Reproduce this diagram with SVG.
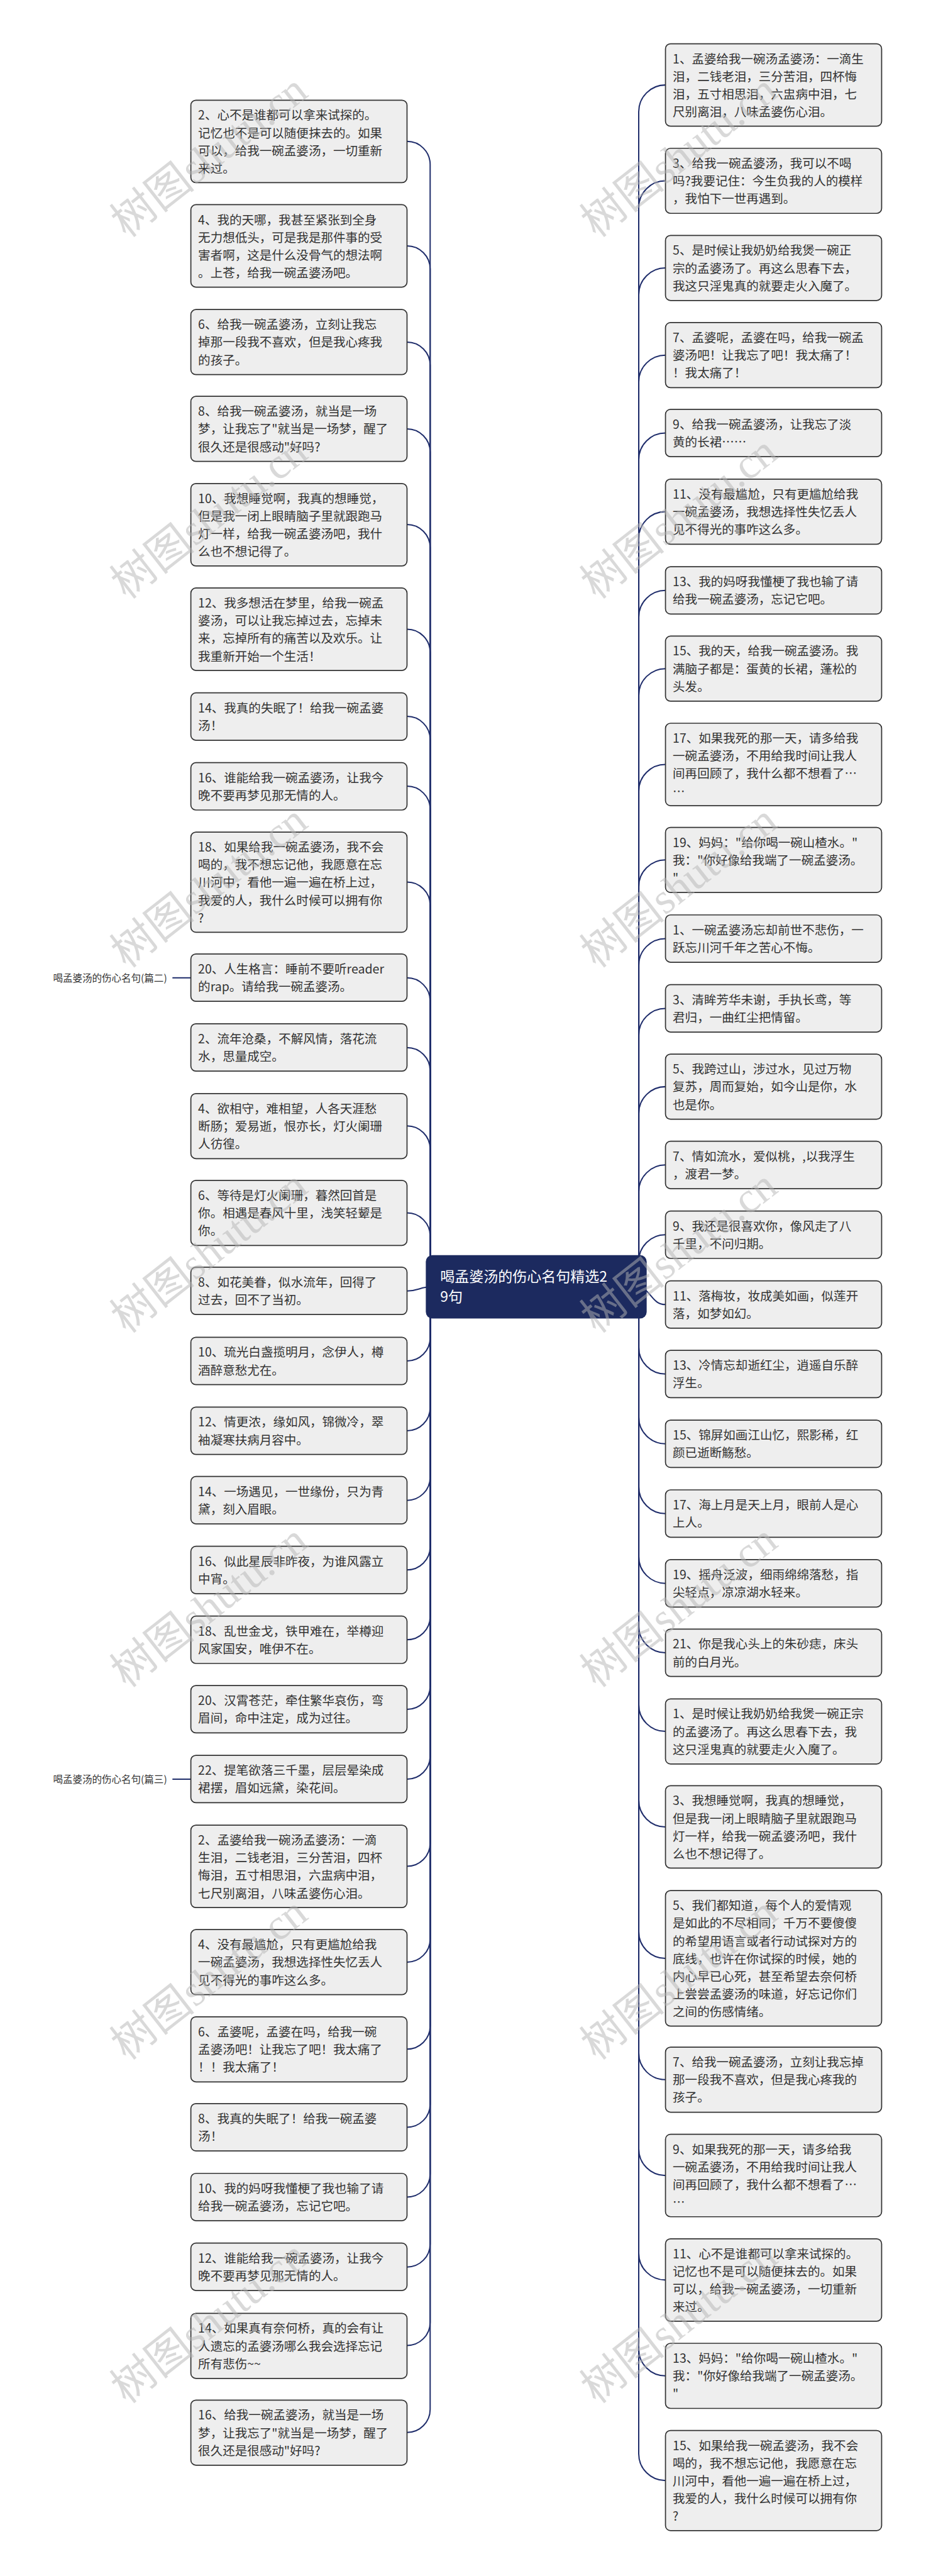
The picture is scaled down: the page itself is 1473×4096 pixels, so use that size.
<svg xmlns="http://www.w3.org/2000/svg" width="1473" height="4096" viewBox="0 0 1473 4096">
<style>
.box{fill:#eeeeee;stroke:#333333;stroke-width:3}
.t{font-family:"Noto Sans CJK SC","Noto Sans",sans-serif;font-size:34px;fill:#333333}
.lab{font-family:"Noto Sans CJK SC","Noto Sans",sans-serif;font-size:27px;fill:#333333}
.ct{font-family:"Noto Sans CJK SC","Noto Sans",sans-serif;font-size:40px;fill:#ffffff}
.wm{font-family:"Liberation Serif","Noto Sans CJK SC",serif;font-size:120px;fill:#b4b4b4;fill-opacity:0.5}
</style>
<rect x="0" y="0" width="1473" height="4096" fill="#ffffff"/>
<g transform="scale(0.575)">
<g id="connectors" fill="none" stroke="#1f2d6b" stroke-width="3.5">
<path d="M1126,391C1161.3,391 1190,419.7 1190,455L1190,3558"/>
<path d="M1126,680C1161.3,680 1190,708.7 1190,744L1190,3558"/>
<path d="M1126,946C1161.3,946 1190,974.7 1190,1010L1190,3558"/>
<path d="M1126,1186C1161.3,1186 1190,1214.7 1190,1250L1190,3558"/>
<path d="M1126,1450.5C1161.3,1450.5 1190,1479.2 1190,1514.5L1190,3558"/>
<path d="M1126,1740C1161.3,1740 1190,1768.7 1190,1804L1190,3558"/>
<path d="M1126,1981C1161.3,1981 1190,2009.7 1190,2045L1190,3558"/>
<path d="M1126,2174C1161.3,2174 1190,2202.7 1190,2238L1190,3558"/>
<path d="M1126,2439C1161.3,2439 1190,2467.7 1190,2503L1190,3558"/>
<path d="M1126,2704C1161.3,2704 1190,2732.7 1190,2768L1190,3558"/>
<path d="M1126,2897C1161.3,2897 1190,2925.7 1190,2961L1190,3558"/>
<path d="M1126,3113.5C1161.3,3113.5 1190,3142.2 1190,3177.5L1190,3558"/>
<path d="M1126,3354C1161.3,3354 1190,3382.7 1190,3418L1190,3558"/>
<path d="M1126,3570C1160,3570 1160,3558 1200,3558"/>
<path d="M1126,3763.5C1161.3,3763.5 1190,3734.8 1190,3699.5L1190,3558"/>
<path d="M1126,3956.5C1161.3,3956.5 1190,3927.8 1190,3892.5L1190,3558"/>
<path d="M1126,4149C1161.3,4149 1190,4120.3 1190,4085L1190,3558"/>
<path d="M1126,4341.5C1161.3,4341.5 1190,4312.8 1190,4277.5L1190,3558"/>
<path d="M1126,4534.5C1161.3,4534.5 1190,4505.8 1190,4470.5L1190,3558"/>
<path d="M1126,4727C1161.3,4727 1190,4698.3 1190,4663L1190,3558"/>
<path d="M1126,4920C1161.3,4920 1190,4891.3 1190,4856L1190,3558"/>
<path d="M1126,5161C1161.3,5161 1190,5132.3 1190,5097L1190,3558"/>
<path d="M1126,5426C1161.3,5426 1190,5397.3 1190,5362L1190,3558"/>
<path d="M1126,5666.5C1161.3,5666.5 1190,5637.8 1190,5602.5L1190,3558"/>
<path d="M1126,5882.5C1161.3,5882.5 1190,5853.8 1190,5818.5L1190,3558"/>
<path d="M1126,6075.5C1161.3,6075.5 1190,6046.8 1190,6011.5L1190,3558"/>
<path d="M1126,6269C1161.3,6269 1190,6240.3 1190,6205L1190,3558"/>
<path d="M1126,6486C1161.3,6486 1190,6457.3 1190,6422L1190,3558"/>
<path d="M1126,6726.5C1161.3,6726.5 1190,6697.8 1190,6662.5L1190,3558"/>
<path d="M1841,235C1800.2,235 1767,268.2 1767,309L1767,3558"/>
<path d="M1841,500C1800.2,500 1767,533.2 1767,574L1767,3558"/>
<path d="M1841,741C1800.2,741 1767,774.2 1767,815L1767,3558"/>
<path d="M1841,982C1800.2,982 1767,1015.2 1767,1056L1767,3558"/>
<path d="M1841,1197.5C1800.2,1197.5 1767,1230.7 1767,1271.5L1767,3558"/>
<path d="M1841,1415C1800.2,1415 1767,1448.2 1767,1489L1767,3558"/>
<path d="M1841,1632.5C1800.2,1632.5 1767,1665.7 1767,1706.5L1767,3558"/>
<path d="M1841,1849C1800.2,1849 1767,1882.2 1767,1923L1767,3558"/>
<path d="M1841,2114C1800.2,2114 1767,2147.2 1767,2188L1767,3558"/>
<path d="M1841,2378C1800.2,2378 1767,2411.2 1767,2452L1767,3558"/>
<path d="M1841,2595.5C1800.2,2595.5 1767,2628.7 1767,2669.5L1767,3558"/>
<path d="M1841,2788.5C1800.2,2788.5 1767,2821.7 1767,2862.5L1767,3558"/>
<path d="M1841,3005C1800.2,3005 1767,3038.2 1767,3079L1767,3558"/>
<path d="M1841,3221.5C1800.2,3221.5 1767,3254.7 1767,3295.5L1767,3558"/>
<path d="M1841,3414.5C1800.2,3414.5 1767,3447.7 1767,3488.5L1767,3558"/>
<path d="M1841,3607.5C1800,3607.5 1800,3558 1760,3558"/>
<path d="M1841,3799.5C1800.2,3799.5 1767,3766.3 1767,3725.5L1767,3558"/>
<path d="M1841,3992.5C1800.2,3992.5 1767,3959.3 1767,3918.5L1767,3558"/>
<path d="M1841,4185.5C1800.2,4185.5 1767,4152.3 1767,4111.5L1767,3558"/>
<path d="M1841,4378.5C1800.2,4378.5 1767,4345.3 1767,4304.5L1767,3558"/>
<path d="M1841,4570.5C1800.2,4570.5 1767,4537.3 1767,4496.5L1767,3558"/>
<path d="M1841,4788C1800.2,4788 1767,4754.8 1767,4714L1767,3558"/>
<path d="M1841,5052C1800.2,5052 1767,5018.8 1767,4978L1767,3558"/>
<path d="M1841,5415.5C1800.2,5415.5 1767,5382.3 1767,5341.5L1767,3558"/>
<path d="M1841,5751C1800.2,5751 1767,5717.8 1767,5677L1767,3558"/>
<path d="M1841,6016C1800.2,6016 1767,5982.8 1767,5942L1767,3558"/>
<path d="M1841,6305C1800.2,6305 1767,6271.8 1767,6231L1767,3558"/>
<path d="M1841,6570C1800.2,6570 1767,6536.8 1767,6496L1767,3558"/>
<path d="M1841,6859.5C1800.2,6859.5 1767,6826.3 1767,6785.5L1767,3558"/>
<path d="M477,2704L528,2704"/>
<path d="M477,4920L528,4920"/>
</g>

<g id="center">
<rect x="1178" y="3471" width="611" height="175" rx="18" fill="#1c2a5f"/>
<text class="ct"><tspan x="1218" y="3544">喝孟婆汤的伤心名句精选2</tspan><tspan x="1218" y="3600">9句</tspan></text>
</g>

<g id="label-2"><text class="lab" x="462" y="2714" text-anchor="end">喝孟婆汤的伤心名句(篇二)</text></g>
<g id="label-3"><text class="lab" x="462" y="4930" text-anchor="end">喝孟婆汤的伤心名句(篇三)</text></g>

<g id="L1"><rect class="box" x="528" y="277" width="598" height="228" rx="14"/><text class="t"><tspan x="548" y="331">2、心不是谁都可以拿来试探的。</tspan><tspan x="548" y="380">记忆也不是可以随便抹去的。如果</tspan><tspan x="548" y="429">可以，给我一碗孟婆汤，一切重新</tspan><tspan x="548" y="478">来过。</tspan></text></g>
<g id="L2"><rect class="box" x="528" y="566" width="598" height="228" rx="14"/><text class="t"><tspan x="548" y="620">4、我的天哪，我甚至紧张到全身</tspan><tspan x="548" y="669">无力想低头，可是我是那件事的受</tspan><tspan x="548" y="718">害者啊，这是什么没骨气的想法啊</tspan><tspan x="548" y="767">。上苍，给我一碗孟婆汤吧。</tspan></text></g>
<g id="L3"><rect class="box" x="528" y="856" width="598" height="180" rx="14"/><text class="t"><tspan x="548" y="910">6、给我一碗孟婆汤，立刻让我忘</tspan><tspan x="548" y="959">掉那一段我不喜欢，但是我心疼我</tspan><tspan x="548" y="1008">的孩子。</tspan></text></g>
<g id="L4"><rect class="box" x="528" y="1096" width="598" height="180" rx="14"/><text class="t"><tspan x="548" y="1150">8、给我一碗孟婆汤，就当是一场</tspan><tspan x="548" y="1199">梦，让我忘了"就当是一场梦，醒了</tspan><tspan x="548" y="1248">很久还是很感动"好吗?</tspan></text></g>
<g id="L5"><rect class="box" x="528" y="1337" width="598" height="228" rx="14"/><text class="t"><tspan x="548" y="1391">10、我想睡觉啊，我真的想睡觉，</tspan><tspan x="548" y="1440">但是我一闭上眼睛脑子里就跟跑马</tspan><tspan x="548" y="1489">灯一样，给我一碗孟婆汤吧，我什</tspan><tspan x="548" y="1538">么也不想记得了。</tspan></text></g>
<g id="L6"><rect class="box" x="528" y="1626" width="598" height="228" rx="14"/><text class="t"><tspan x="548" y="1680">12、我多想活在梦里，给我一碗孟</tspan><tspan x="548" y="1729">婆汤，可以让我忘掉过去，忘掉未</tspan><tspan x="548" y="1778">来，忘掉所有的痛苦以及欢乐。让</tspan><tspan x="548" y="1827">我重新开始一个生活！</tspan></text></g>
<g id="L7"><rect class="box" x="528" y="1916" width="598" height="131" rx="14"/><text class="t"><tspan x="548" y="1970">14、我真的失眠了！给我一碗孟婆</tspan><tspan x="548" y="2019">汤！</tspan></text></g>
<g id="L8"><rect class="box" x="528" y="2109" width="598" height="131" rx="14"/><text class="t"><tspan x="548" y="2163">16、谁能给我一碗孟婆汤，让我今</tspan><tspan x="548" y="2212">晚不要再梦见那无情的人。</tspan></text></g>
<g id="L9"><rect class="box" x="528" y="2301" width="598" height="277" rx="14"/><text class="t"><tspan x="548" y="2355">18、如果给我一碗孟婆汤，我不会</tspan><tspan x="548" y="2404">喝的，我不想忘记他，我愿意在忘</tspan><tspan x="548" y="2453">川河中，看他一遍一遍在桥上过，</tspan><tspan x="548" y="2502">我爱的人，我什么时候可以拥有你</tspan><tspan x="548" y="2551">?</tspan></text></g>
<g id="L10"><rect class="box" x="528" y="2638" width="598" height="131" rx="14"/><text class="t"><tspan x="548" y="2692">20、人生格言：睡前不要听reader</tspan><tspan x="548" y="2741">的rap。请给我一碗孟婆汤。</tspan></text></g>
<g id="L11"><rect class="box" x="528" y="2831" width="598" height="131" rx="14"/><text class="t"><tspan x="548" y="2885">2、流年沧桑，不解风情，落花流</tspan><tspan x="548" y="2934">水，思量成空。</tspan></text></g>
<g id="L12"><rect class="box" x="528" y="3024" width="598" height="180" rx="14"/><text class="t"><tspan x="548" y="3078">4、欲相守，难相望，人各天涯愁</tspan><tspan x="548" y="3127">断肠；爱易逝，恨亦长，灯火阑珊</tspan><tspan x="548" y="3176">人彷徨。</tspan></text></g>
<g id="L13"><rect class="box" x="528" y="3264" width="598" height="180" rx="14"/><text class="t"><tspan x="548" y="3318">6、等待是灯火阑珊，暮然回首是</tspan><tspan x="548" y="3367">你。相遇是春风十里，浅笑轻颦是</tspan><tspan x="548" y="3416">你。</tspan></text></g>
<g id="L14"><rect class="box" x="528" y="3504" width="598" height="131" rx="14"/><text class="t"><tspan x="548" y="3558">8、如花美眷，似水流年，回得了</tspan><tspan x="548" y="3607">过去，回不了当初。</tspan></text></g>
<g id="L15"><rect class="box" x="528" y="3698" width="598" height="131" rx="14"/><text class="t"><tspan x="548" y="3752">10、琉光白盏揽明月，念伊人，樽</tspan><tspan x="548" y="3801">酒醉意愁尤在。</tspan></text></g>
<g id="L16"><rect class="box" x="528" y="3891" width="598" height="131" rx="14"/><text class="t"><tspan x="548" y="3945">12、情更浓，缘如风，锦微冷，翠</tspan><tspan x="548" y="3994">袖凝寒扶病月容中。</tspan></text></g>
<g id="L17"><rect class="box" x="528" y="4083" width="598" height="131" rx="14"/><text class="t"><tspan x="548" y="4137">14、一场遇见，一世缘份，只为青</tspan><tspan x="548" y="4186">黛，刻入眉眼。</tspan></text></g>
<g id="L18"><rect class="box" x="528" y="4276" width="598" height="131" rx="14"/><text class="t"><tspan x="548" y="4330">16、似此星辰非昨夜，为谁风露立</tspan><tspan x="548" y="4379">中宵。</tspan></text></g>
<g id="L19"><rect class="box" x="528" y="4469" width="598" height="131" rx="14"/><text class="t"><tspan x="548" y="4523">18、乱世金戈，铁甲难在，举樽迎</tspan><tspan x="548" y="4572">风家国安，唯伊不在。</tspan></text></g>
<g id="L20"><rect class="box" x="528" y="4661" width="598" height="131" rx="14"/><text class="t"><tspan x="548" y="4715">20、汉霄苍茫，牵住繁华哀伤，弯</tspan><tspan x="548" y="4764">眉间，命中注定，成为过往。</tspan></text></g>
<g id="L21"><rect class="box" x="528" y="4854" width="598" height="131" rx="14"/><text class="t"><tspan x="548" y="4908">22、提笔欲落三千墨，层层晕染成</tspan><tspan x="548" y="4957">裙摆，眉如远黛，染花间。</tspan></text></g>
<g id="L22"><rect class="box" x="528" y="5047" width="598" height="228" rx="14"/><text class="t"><tspan x="548" y="5101">2、孟婆给我一碗汤孟婆汤：一滴</tspan><tspan x="548" y="5150">生泪，二钱老泪，三分苦泪，四杯</tspan><tspan x="548" y="5199">悔泪，五寸相思泪，六盅病中泪，</tspan><tspan x="548" y="5248">七尺别离泪，八味孟婆伤心泪。</tspan></text></g>
<g id="L23"><rect class="box" x="528" y="5336" width="598" height="180" rx="14"/><text class="t"><tspan x="548" y="5390">4、没有最尴尬，只有更尴尬给我</tspan><tspan x="548" y="5439">一碗孟婆汤，我想选择性失忆丢人</tspan><tspan x="548" y="5488">见不得光的事咋这么多。</tspan></text></g>
<g id="L24"><rect class="box" x="528" y="5577" width="598" height="180" rx="14"/><text class="t"><tspan x="548" y="5631">6、孟婆呢，孟婆在吗，给我一碗</tspan><tspan x="548" y="5680">孟婆汤吧！让我忘了吧！我太痛了</tspan><tspan x="548" y="5729">！！我太痛了！</tspan></text></g>
<g id="L25"><rect class="box" x="528" y="5817" width="598" height="131" rx="14"/><text class="t"><tspan x="548" y="5871">8、我真的失眠了！给我一碗孟婆</tspan><tspan x="548" y="5920">汤！</tspan></text></g>
<g id="L26"><rect class="box" x="528" y="6010" width="598" height="131" rx="14"/><text class="t"><tspan x="548" y="6064">10、我的妈呀我懂梗了我也输了请</tspan><tspan x="548" y="6113">给我一碗孟婆汤，忘记它吧。</tspan></text></g>
<g id="L27"><rect class="box" x="528" y="6203" width="598" height="131" rx="14"/><text class="t"><tspan x="548" y="6257">12、谁能给我一碗孟婆汤，让我今</tspan><tspan x="548" y="6306">晚不要再梦见那无情的人。</tspan></text></g>
<g id="L28"><rect class="box" x="528" y="6397" width="598" height="180" rx="14"/><text class="t"><tspan x="548" y="6451">14、如果真有奈何桥，真的会有让</tspan><tspan x="548" y="6500">人遗忘的孟婆汤哪么我会选择忘记</tspan><tspan x="548" y="6549">所有悲伤~~</tspan></text></g>
<g id="L29"><rect class="box" x="528" y="6637" width="598" height="180" rx="14"/><text class="t"><tspan x="548" y="6691">16、给我一碗孟婆汤，就当是一场</tspan><tspan x="548" y="6740">梦，让我忘了"就当是一场梦，醒了</tspan><tspan x="548" y="6789">很久还是很感动"好吗?</tspan></text></g>

<g id="R1"><rect class="box" x="1841" y="121" width="598" height="228" rx="14"/><text class="t"><tspan x="1861" y="175">1、孟婆给我一碗汤孟婆汤：一滴生</tspan><tspan x="1861" y="224">泪，二钱老泪，三分苦泪，四杯悔</tspan><tspan x="1861" y="273">泪，五寸相思泪，六盅病中泪，七</tspan><tspan x="1861" y="322">尺别离泪，八味孟婆伤心泪。</tspan></text></g>
<g id="R2"><rect class="box" x="1841" y="410" width="598" height="180" rx="14"/><text class="t"><tspan x="1861" y="464">3、给我一碗孟婆汤，我可以不喝</tspan><tspan x="1861" y="513">吗?我要记住：今生负我的人的模样</tspan><tspan x="1861" y="562">，我怕下一世再遇到。</tspan></text></g>
<g id="R3"><rect class="box" x="1841" y="651" width="598" height="180" rx="14"/><text class="t"><tspan x="1861" y="705">5、是时候让我奶奶给我煲一碗正</tspan><tspan x="1861" y="754">宗的孟婆汤了。再这么思春下去，</tspan><tspan x="1861" y="803">我这只淫鬼真的就要走火入魔了。</tspan></text></g>
<g id="R4"><rect class="box" x="1841" y="892" width="598" height="180" rx="14"/><text class="t"><tspan x="1861" y="946">7、孟婆呢，孟婆在吗，给我一碗孟</tspan><tspan x="1861" y="995">婆汤吧！让我忘了吧！我太痛了！</tspan><tspan x="1861" y="1044">！我太痛了！</tspan></text></g>
<g id="R5"><rect class="box" x="1841" y="1132" width="598" height="131" rx="14"/><text class="t"><tspan x="1861" y="1186">9、给我一碗孟婆汤，让我忘了淡</tspan><tspan x="1861" y="1235">黄的长裙……</tspan></text></g>
<g id="R6"><rect class="box" x="1841" y="1325" width="598" height="180" rx="14"/><text class="t"><tspan x="1861" y="1379">11、没有最尴尬，只有更尴尬给我</tspan><tspan x="1861" y="1428">一碗孟婆汤，我想选择性失忆丢人</tspan><tspan x="1861" y="1477">见不得光的事咋这么多。</tspan></text></g>
<g id="R7"><rect class="box" x="1841" y="1567" width="598" height="131" rx="14"/><text class="t"><tspan x="1861" y="1621">13、我的妈呀我懂梗了我也输了请</tspan><tspan x="1861" y="1670">给我一碗孟婆汤，忘记它吧。</tspan></text></g>
<g id="R8"><rect class="box" x="1841" y="1759" width="598" height="180" rx="14"/><text class="t"><tspan x="1861" y="1813">15、我的天，给我一碗孟婆汤。我</tspan><tspan x="1861" y="1862">满脑子都是：蛋黄的长裙，蓬松的</tspan><tspan x="1861" y="1911">头发。</tspan></text></g>
<g id="R9"><rect class="box" x="1841" y="2000" width="598" height="228" rx="14"/><text class="t"><tspan x="1861" y="2054">17、如果我死的那一天，请多给我</tspan><tspan x="1861" y="2103">一碗孟婆汤，不用给我时间让我人</tspan><tspan x="1861" y="2152">间再回顾了，我什么都不想看了…</tspan><tspan x="1861" y="2201">…</tspan></text></g>
<g id="R10"><rect class="box" x="1841" y="2288" width="598" height="180" rx="14"/><text class="t"><tspan x="1861" y="2342">19、妈妈："给你喝一碗山楂水。"</tspan><tspan x="1861" y="2391">我："你好像给我端了一碗孟婆汤。</tspan><tspan x="1861" y="2440">"</tspan></text></g>
<g id="R11"><rect class="box" x="1841" y="2530" width="598" height="131" rx="14"/><text class="t"><tspan x="1861" y="2584">1、一碗孟婆汤忘却前世不悲伤，一</tspan><tspan x="1861" y="2633">跃忘川河千年之苦心不悔。</tspan></text></g>
<g id="R12"><rect class="box" x="1841" y="2723" width="598" height="131" rx="14"/><text class="t"><tspan x="1861" y="2777">3、清眸芳华未谢，手执长鸢，等</tspan><tspan x="1861" y="2826">君归，一曲红尘把情留。</tspan></text></g>
<g id="R13"><rect class="box" x="1841" y="2915" width="598" height="180" rx="14"/><text class="t"><tspan x="1861" y="2969">5、我跨过山，涉过水，见过万物</tspan><tspan x="1861" y="3018">复苏，周而复始，如今山是你，水</tspan><tspan x="1861" y="3067">也是你。</tspan></text></g>
<g id="R14"><rect class="box" x="1841" y="3156" width="598" height="131" rx="14"/><text class="t"><tspan x="1861" y="3210">7、情如流水，爱似桃，,以我浮生</tspan><tspan x="1861" y="3259">，渡君一梦。</tspan></text></g>
<g id="R15"><rect class="box" x="1841" y="3349" width="598" height="131" rx="14"/><text class="t"><tspan x="1861" y="3403">9、我还是很喜欢你，像风走了八</tspan><tspan x="1861" y="3452">千里，不问归期。</tspan></text></g>
<g id="R16"><rect class="box" x="1841" y="3542" width="598" height="131" rx="14"/><text class="t"><tspan x="1861" y="3596">11、落梅妆，妆成美如画，似莲开</tspan><tspan x="1861" y="3645">落，如梦如幻。</tspan></text></g>
<g id="R17"><rect class="box" x="1841" y="3734" width="598" height="131" rx="14"/><text class="t"><tspan x="1861" y="3788">13、冷情忘却逝红尘，逍遥自乐醉</tspan><tspan x="1861" y="3837">浮生。</tspan></text></g>
<g id="R18"><rect class="box" x="1841" y="3927" width="598" height="131" rx="14"/><text class="t"><tspan x="1861" y="3981">15、锦屏如画江山忆，熙影稀，红</tspan><tspan x="1861" y="4030">颜已逝断觞愁。</tspan></text></g>
<g id="R19"><rect class="box" x="1841" y="4120" width="598" height="131" rx="14"/><text class="t"><tspan x="1861" y="4174">17、海上月是天上月，眼前人是心</tspan><tspan x="1861" y="4223">上人。</tspan></text></g>
<g id="R20"><rect class="box" x="1841" y="4313" width="598" height="131" rx="14"/><text class="t"><tspan x="1861" y="4367">19、摇舟泛波，细雨绵绵落愁，指</tspan><tspan x="1861" y="4416">尖轻点，凉凉湖水轻来。</tspan></text></g>
<g id="R21"><rect class="box" x="1841" y="4505" width="598" height="131" rx="14"/><text class="t"><tspan x="1861" y="4559">21、你是我心头上的朱砂痣，床头</tspan><tspan x="1861" y="4608">前的白月光。</tspan></text></g>
<g id="R22"><rect class="box" x="1841" y="4698" width="598" height="180" rx="14"/><text class="t"><tspan x="1861" y="4752">1、是时候让我奶奶给我煲一碗正宗</tspan><tspan x="1861" y="4801">的孟婆汤了。再这么思春下去，我</tspan><tspan x="1861" y="4850">这只淫鬼真的就要走火入魔了。</tspan></text></g>
<g id="R23"><rect class="box" x="1841" y="4938" width="598" height="228" rx="14"/><text class="t"><tspan x="1861" y="4992">3、我想睡觉啊，我真的想睡觉，</tspan><tspan x="1861" y="5041">但是我一闭上眼睛脑子里就跟跑马</tspan><tspan x="1861" y="5090">灯一样，给我一碗孟婆汤吧，我什</tspan><tspan x="1861" y="5139">么也不想记得了。</tspan></text></g>
<g id="R24"><rect class="box" x="1841" y="5228" width="598" height="375" rx="14"/><text class="t"><tspan x="1861" y="5282">5、我们都知道，每个人的爱情观</tspan><tspan x="1861" y="5331">是如此的不尽相同，千万不要傻傻</tspan><tspan x="1861" y="5380">的希望用语言或者行动试探对方的</tspan><tspan x="1861" y="5429">底线，也许在你试探的时候，她的</tspan><tspan x="1861" y="5478">内心早已心死，甚至希望去奈何桥</tspan><tspan x="1861" y="5527">上尝尝孟婆汤的味道，好忘记你们</tspan><tspan x="1861" y="5576">之间的伤感情绪。</tspan></text></g>
<g id="R25"><rect class="box" x="1841" y="5661" width="598" height="180" rx="14"/><text class="t"><tspan x="1861" y="5715">7、给我一碗孟婆汤，立刻让我忘掉</tspan><tspan x="1861" y="5764">那一段我不喜欢，但是我心疼我的</tspan><tspan x="1861" y="5813">孩子。</tspan></text></g>
<g id="R26"><rect class="box" x="1841" y="5902" width="598" height="228" rx="14"/><text class="t"><tspan x="1861" y="5956">9、如果我死的那一天，请多给我</tspan><tspan x="1861" y="6005">一碗孟婆汤，不用给我时间让我人</tspan><tspan x="1861" y="6054">间再回顾了，我什么都不想看了…</tspan><tspan x="1861" y="6103">…</tspan></text></g>
<g id="R27"><rect class="box" x="1841" y="6191" width="598" height="228" rx="14"/><text class="t"><tspan x="1861" y="6245">11、心不是谁都可以拿来试探的。</tspan><tspan x="1861" y="6294">记忆也不是可以随便抹去的。如果</tspan><tspan x="1861" y="6343">可以，给我一碗孟婆汤，一切重新</tspan><tspan x="1861" y="6392">来过。</tspan></text></g>
<g id="R28"><rect class="box" x="1841" y="6480" width="598" height="180" rx="14"/><text class="t"><tspan x="1861" y="6534">13、妈妈："给你喝一碗山楂水。"</tspan><tspan x="1861" y="6583">我："你好像给我端了一碗孟婆汤。</tspan><tspan x="1861" y="6632">"</tspan></text></g>
<g id="R29"><rect class="box" x="1841" y="6721" width="598" height="277" rx="14"/><text class="t"><tspan x="1861" y="6775">15、如果给我一碗孟婆汤，我不会</tspan><tspan x="1861" y="6824">喝的，我不想忘记他，我愿意在忘</tspan><tspan x="1861" y="6873">川河中，看他一遍一遍在桥上过，</tspan><tspan x="1861" y="6922">我爱的人，我什么时候可以拥有你</tspan><tspan x="1861" y="6971">?</tspan></text></g>

<g id="watermarks">
<text class="wm" transform="translate(350,660) rotate(-38)">树图shutu.cn</text>
<text class="wm" transform="translate(350,1660) rotate(-38)">树图shutu.cn</text>
<text class="wm" transform="translate(350,2680) rotate(-38)">树图shutu.cn</text>
<text class="wm" transform="translate(350,3690) rotate(-38)">树图shutu.cn</text>
<text class="wm" transform="translate(350,4670) rotate(-38)">树图shutu.cn</text>
<text class="wm" transform="translate(350,5700) rotate(-38)">树图shutu.cn</text>
<text class="wm" transform="translate(350,6650) rotate(-38)">树图shutu.cn</text>
<text class="wm" transform="translate(1650,660) rotate(-38)">树图shutu.cn</text>
<text class="wm" transform="translate(1650,1660) rotate(-38)">树图shutu.cn</text>
<text class="wm" transform="translate(1650,2680) rotate(-38)">树图shutu.cn</text>
<text class="wm" transform="translate(1650,3690) rotate(-38)">树图shutu.cn</text>
<text class="wm" transform="translate(1650,4670) rotate(-38)">树图shutu.cn</text>
<text class="wm" transform="translate(1650,5700) rotate(-38)">树图shutu.cn</text>
<text class="wm" transform="translate(1650,6650) rotate(-38)">树图shutu.cn</text>
</g>
</g>
</svg>
